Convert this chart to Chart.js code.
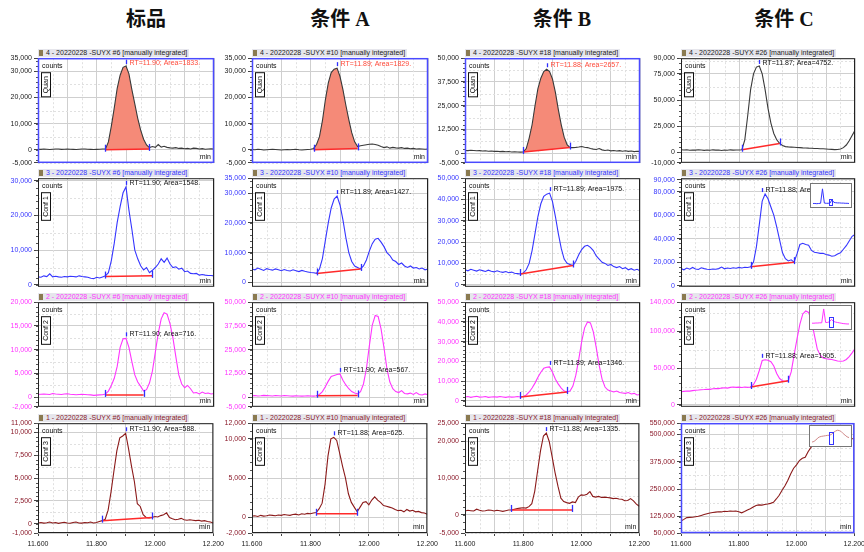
<!DOCTYPE html>
<html><head><meta charset="utf-8">
<script src="https://cdn.jsdelivr.net/npm/chart.js@4.4.1/dist/chart.umd.min.js"></script>
<style>
html,body{margin:0;padding:0;background:#fff}
body{width:864px;height:552px;position:relative;overflow:hidden;font-family:"Liberation Sans",Arial,sans-serif}
.title{position:absolute;top:3px;font-weight:bold;font-size:20px;font-family:"Liberation Serif","Noto Sans CJK SC",serif;transform:translateX(-50%);white-space:nowrap;color:#111}
.hdr{position:absolute;height:8px;line-height:8px;font-size:7px;background:#e6e6ec;white-space:nowrap;padding:0 2px 0 1px}
.hdr .ico{display:inline-block;width:4px;height:6px;background:#8a7a50;margin-right:3px;vertical-align:-1px}
.panel{position:absolute}
.panel canvas{display:block}
</style></head><body>
<script>
// ---- sampling instants (min) ----
const TIMES = [11.60,11.61,11.62,11.63,11.64,11.65,11.66,11.67,11.68,11.69,11.70,11.71,11.72,11.73,11.74,11.75,11.76,11.77,11.78,11.79,
11.80,11.81,11.82,11.83,11.84,11.85,11.86,11.87,11.88,11.89,11.90,11.91,11.92,11.93,11.94,11.95,11.96,11.97,11.98,11.99,
12.00,12.01,12.02,12.03,12.04,12.05,12.06,12.07,12.08,12.09,12.10,12.11,12.12,12.13,12.14,12.15,12.16,12.17,12.18,12.19,12.20];

// ---- Quan transition (row 1) ----
const quan_std = [200,150,250,200,100,200,300,250,150,200,250,200,150,100,200,250,300,200,150,100,150,200,250,
300,3000,9000,16000,23500,28500,31500,32000,29000,23000,17500,12000,7500,4000,1800,800,
1200,900,2000,1000,1300,900,700,600,800,500,600,400,500,300,600,500,300,400,200,300,400,250];
const quan_a = [100,0,200,100,-100,0,100,200,100,0,-100,0,100,0,100,200,0,-100,0,100,
200,500,2000,5000,11000,19000,25500,29500,30800,31200,28000,23000,17000,11500,6500,3000,1200,
1500,1700,1900,2100,2200,2000,1700,1200,800,1100,600,900,700,600,800,500,600,400,500,300,400,300,200,300];
const quan_b = [1500,1400,1600,1500,1300,1400,1200,1300,1100,1200,1000,1100,900,1000,800,900,700,800,700,600,
700,2500,8000,15000,25000,34000,39500,43000,44200,43000,39000,32000,23000,15000,8500,4500,3000,
3000,3100,3300,3600,3200,3000,2500,2200,2000,2500,1800,1500,1700,1300,1500,1200,1400,1100,1300,1000,1200,900,1100,1000];
const quan_c = [2500,2200,2400,2000,2300,2100,2500,2200,1900,2300,2000,2400,2100,2200,1800,2300,2000,2400,2100,2300,2200,
2500,12000,35000,60000,75000,81500,82600,75000,60000,42000,28000,18000,12000,8500,
6500,5500,5200,5000,4800,4600,4500,4300,4200,4000,3900,3700,3600,3500,3400,3200,3000,2800,2600,2700,3200,4500,7000,11000,16000,21000];

// ---- Conf 1 (row 2) ----
const conf1_std = [2300,2200,2600,2400,3200,2300,2500,2300,2200,2400,2300,2500,2400,2300,2600,2400,2300,2200,1900,1800,2200,2000,2300,
2600,3500,7000,12000,18000,22500,26500,28200,21500,16000,10000,7500,5500,4300,5000,3500,4200,
5000,6000,7500,6500,7700,6000,5000,5200,4500,4800,3800,4000,3300,3200,3300,2800,3000,2800,2700,2700,2600];
const conf1_a = [4500,4200,4800,4400,4000,4600,4300,4100,4500,4200,3900,4300,4000,3800,4200,3900,3600,4000,3700,3500,3300,3200,
3000,4500,8000,14000,20000,25000,28000,29000,26000,21000,15000,10000,7000,5500,5000,4500,
5500,7500,10500,13000,14500,14800,13500,12000,10000,9000,7500,7000,6000,6500,5500,5000,5500,4800,5000,4500,4800,4200,4500];
const conf1_b = [7000,6500,7200,6800,6400,7000,6600,6200,6800,6300,6000,6500,6100,5800,6200,5600,5900,5400,5200,
5000,5500,7000,10000,16000,24000,32000,38000,41500,42500,43000,39000,32000,24000,17000,12000,10000,9500,9000,
11000,14000,16500,18000,18500,17500,16000,13500,12000,10500,10000,9000,9500,8500,8000,8500,7500,8000,7000,7500,6800,7200,6500];
const conf1_c = [14500,13500,15000,14000,15500,14200,13800,15200,14500,14000,13800,14200,14000,14500,15800,14300,15000,14600,15200,14800,15500,15000,15600,15400,
16000,20000,33000,52000,72000,78000,74000,67000,60000,50000,39000,28000,23000,21000,22000,20000,
27000,35000,36000,35000,34500,30000,28500,28000,27500,27500,26500,26000,25000,25500,27000,28000,31000,34000,38000,42000,43500];

// ---- Conf 2 (row 3) ----
const conf2_std = [600,650,700,650,600,800,700,650,600,700,750,650,600,550,600,650,600,550,500,400,450,500,550,
700,1300,2500,4000,6500,10500,12300,12400,10500,7500,4700,3200,2300,1300,
1600,3000,5500,9500,13500,16500,17800,17500,15500,12500,8500,4700,2800,2000,2500,1800,900,1000,700,1100,800,900,700,800];
const conf2_a = [800,900,700,800,1000,900,800,700,900,800,700,900,800,700,600,800,700,600,700,800,700,600,
800,1500,3000,5500,8500,11000,11500,12000,12300,9000,6500,4500,3000,2200,1800,
3000,7000,15000,27000,38000,43000,42500,36000,26000,15000,8000,4500,3000,2500,3500,2000,1800,2200,1500,2500,1500,1200,1800,1300];
const conf2_b = [2000,2200,1800,2100,2300,1900,2000,2200,1800,2000,2100,1900,2200,2000,1800,2100,1900,2000,2200,2000,
2200,3000,4500,6500,9000,12000,14500,16500,17000,17200,14500,11000,8500,6500,5000,4500,
5000,7500,13000,21000,30000,37000,40000,39500,35000,27000,18000,11000,7000,5500,5000,4500,5000,4200,4000,3800,4200,3500,3800,3000,3200];
const conf2_c = [18000,18500,19000,18800,19500,20000,20300,20800,21000,21500,21200,22000,22500,22300,23000,23500,23000,24000,24500,24000,24300,23800,24500,24000,24500,
28000,35000,47000,60500,61500,61000,59000,53000,43000,36000,33000,32000,33000,
45000,68000,90000,110000,124000,128000,126000,115000,95000,76000,68000,64000,63000,62500,62000,61000,60000,59500,60000,62000,66000,71000,77000];

// ---- Conf 3 (row 4) ----
const conf3_std = [100,150,80,120,200,100,150,50,120,180,100,60,150,200,100,80,150,120,200,100,150,250,350,
500,1500,3500,5800,8000,9400,9600,9900,8200,6300,4600,2200,1900,1000,700,650,700,
800,750,900,1000,1200,700,550,450,500,600,450,400,450,400,350,400,300,350,250,200,100];
const conf3_a = [150,200,100,250,150,200,300,250,200,300,250,350,300,250,350,400,300,450,400,500,450,550,600,
1100,1800,4200,7800,10000,10200,9800,8200,6500,5000,3000,1900,1300,700,
1300,1900,2000,1600,2200,2600,2200,1900,1500,1400,1300,1200,1000,850,900,700,1000,800,900,700,750,600,550,400];
const conf3_b = [1000,1200,1100,1000,1500,1200,1000,1100,1300,1200,1000,1200,1100,900,1100,1300,1300,1500,1700,1800,1900,1800,2200,
3000,6400,12000,17500,21500,22300,20000,15800,11500,7800,4500,3600,3300,3100,
3500,3300,4800,5400,5300,5600,6300,5000,4800,5000,4700,4800,4700,4600,4400,4500,4300,4200,3800,3900,4400,3800,2900,2300];
const conf3_c = [105000,112000,120000,121000,122000,124000,126000,130000,134000,138000,141000,143000,145000,147000,146000,149000,148000,150000,149000,150000,
147000,142000,148000,155000,160000,168000,175000,178000,177000,180000,
182000,185000,190000,205000,222000,245000,265000,290000,320000,345000,360000,380000,390000,395000,420000,440000,
455000,465000,470000,475000,480000,478000,485000,490000,488000,492000,495000,490000,485000,480000,478000];

const SERIES = [
  [quan_std, quan_a, quan_b, quan_c],
  [conf1_std, conf1_a, conf1_b, conf1_c],
  [conf2_std, conf2_a, conf2_b, conf2_c],
  [conf3_std, conf3_a, conf3_b, conf3_c]
];

// ---- labels ----
const COLUMN_TITLES = ['标品', '条件 A', '条件 B', '条件 C'];
const SAMPLE_NO = ['#6', '#10', '#18', '#26'];
const TRACE_NO = ['4', '3', '2', '1'];
const ION_NAMES = ['Quan', 'Conf 1', 'Conf 2', 'Conf 3'];
const X_TICKS = [11.6, 11.7, 11.8, 11.9, 12.0, 12.1, 12.2];
const X_LABELS = [11.6, 11.8, 12.0, 12.2];

// ---- y-axis tick labels and ranges ----
const Y_TICKS = [
  [[35000,30000,20000,10000,0,-5000],[35000,30000,20000,10000,0,-5000],[50000,37500,25000,12500,0,-5000],[90000,75000,50000,25000,0,-10000]],
  [[30000,20000,10000,0],[35000,30000,20000,10000,0],[50000,40000,30000,20000,10000,0],[90000,80000,60000,40000,20000,0]],
  [[20000,15000,10000,5000,0,-2000],[50000,37500,25000,12500,0,-5000],[50000,40000,30000,20000,10000,0],[140000,100000,50000,0]],
  [[11000,10000,7500,5000,2500,0,-1000],[12000,10000,5000,0,-2000],[25000,20000,10000,0,-5000],[550000,500000,375000,250000,125000,50000]]
];
const Y_RANGE = [
  [[-5000,35000],[-5000,35000],[-5000,50000],[-10000,90000]],
  [[-550,30700],[-1500,35000],[-1000,50000],[-1000,91500]],
  [[-2000,20000],[-5000,50000],[-3000,50000],[-2500,140000]],
  [[-1000,11000],[-2000,12000],[-5000,25000],[50000,550000]]
];
const Y_STEP = [
  [10000,10000,12500,25000],
  [10000,10000,10000,20000],
  [5000,12500,10000,50000],
  [2500,5000,10000,125000]
];

// ---- integration results ----
const RT = [[11.90,11.89,11.88,11.87],[11.90,11.89,11.89,11.88],[11.90,11.90,11.89,11.88],[11.90,11.88,11.88,null]];
const AREA = [[1833,1829,2657,4752],[1548,1427,1975,3741],[716,567,1346,1905],[588,625,1335,null]];
const INT_START = [[11.83,11.81,11.80,11.81],[11.83,11.82,11.79,11.84],[11.83,11.82,11.79,11.84],[11.82,11.82,11.76,null]];
const INT_END = [[11.98,11.96,11.96,11.94],[11.99,11.97,11.97,11.99],[11.96,11.96,11.95,11.97],[11.99,11.96,11.97,null]];
const BASE_START = [[0,0,700,2500],[2400,3000,5000,16000],[500,800,2000,24500],[350,450,1300,null]];
const BASE_END = [[300,500,3000,8500],[2600,4500,9000,20000],[500,1000,4500,33000],[700,450,1300,null]];

// ---- overview thumbnails (column C) ----
const INSET_X = [0,1,2,3,4,5,6,7,8,9,10,11,12,13,14,15,16,17,18,19];
const inset_conf1 = [8,8,7,8,9,85,10,9,9,10,28,14,12,11,11,10,10,9,9,8];
const inset_conf2 = [20,20,21,21,22,22,95,24,24,28,40,30,26,24,22,20,18,17,16,16];
const inset_conf3 = [12,16,25,38,45,48,50,52,54,55,60,72,80,86,84,78,65,55,45,40];
const INSET_WINDOW = [8.6, 10.4];
const INSET_WINDOW_TOP = [32, 53, 78];

// ---- styling ----
const TRACE_COLOR = ['#3a3a3a', '#3535ff', '#ff35ff', '#8b1a1a'];
const LABEL_COLOR = ['#222222', '#3535ff', '#ff35ff', '#8b1a2a'];
const COL_BOX = [[38,214],[252,428],[465,640],[681,855]];
const COL_LEFT = [0,220,436,650];
const ROW_BOX = [[58,168],[178,292],[302,412],[423,533]];
const TITLE_X = [146,340,562,784];
const FONT = '"Liberation Sans", Arial, sans-serif';

const fmtY = v => v.toLocaleString('en-US');

COLUMN_TITLES.forEach((t, c) => {
  const d = document.createElement('div');
  d.className = 'title'; d.textContent = t; d.style.left = TITLE_X[c] + 'px';
  document.body.appendChild(d);
});

function decorPlugin(info) {
  return {
    id: 'decor',
    beforeDatasetsDraw(chart) {
      const { ctx, chartArea: a, scales: { x, y } } = chart;
      ctx.save();
      // minor dashed grid
      ctx.strokeStyle = '#e0e0e0'; ctx.lineWidth = 1; ctx.setLineDash([2, 2]);
      const half = info.step / 2;
      for (let k = Math.ceil(y.min / half); k * half <= y.max; k++) {
        const v = k * half;
        if (k % 2 === 0) continue;
        const Y = Math.round(y.getPixelForValue(v)) + 0.5;
        ctx.beginPath(); ctx.moveTo(a.left, Y); ctx.lineTo(a.right, Y); ctx.stroke();
      }
      for (let i = 0; i < X_TICKS.length - 1; i++) {
        const X = Math.round(x.getPixelForValue((X_TICKS[i] + X_TICKS[i + 1]) / 2)) + 0.5;
        ctx.beginPath(); ctx.moveTo(X, a.top); ctx.lineTo(X, a.bottom); ctx.stroke();
      }
      ctx.setLineDash([]);
      // small ruler marks on the y axis
      ctx.strokeStyle = '#555';
      const fifth = info.step / 5;
      for (let k = Math.ceil(y.min / fifth); k * fifth <= y.max; k++) {
        const Y = Math.round(y.getPixelForValue(k * fifth)) + 0.5;
        ctx.beginPath(); ctx.moveTo(a.left - 2, Y); ctx.lineTo(a.left, Y); ctx.stroke();
      }
      // integrated peak area
      if (info.fill && info.s != null) {
        ctx.beginPath();
        let first = true;
        TIMES.forEach((t, i) => {
          if (t < info.s - 1e-9 || t > info.e + 1e-9) return;
          const X = x.getPixelForValue(t), Y = y.getPixelForValue(info.vals[i]);
          if (first) { ctx.moveTo(X, Y); first = false; } else ctx.lineTo(X, Y);
        });
        ctx.lineTo(x.getPixelForValue(info.e), y.getPixelForValue(info.be));
        ctx.lineTo(x.getPixelForValue(info.s), y.getPixelForValue(info.bs));
        ctx.closePath();
        ctx.fillStyle = '#f58a78'; ctx.fill();
      }
      ctx.restore();
    },
    afterDatasetsDraw(chart) {
      const { ctx, chartArea: a, scales: { x, y } } = chart;
      if (info.s == null) return;
      ctx.save();
      ctx.strokeStyle = '#2f2fff'; ctx.lineWidth = 1.3;
      [[info.s, info.bs], [info.e, info.be]].forEach(([t, v]) => {
        const X = Math.round(x.getPixelForValue(t)) + 0.5, Y = y.getPixelForValue(v);
        ctx.beginPath(); ctx.moveTo(X, Y - 5); ctx.lineTo(X, Y + 2); ctx.stroke();
      });
      // apex
      let top = -Infinity;
      TIMES.forEach((t, i) => { if (t >= info.s - 1e-9 && t <= info.e + 1e-9) top = Math.max(top, info.vals[i]); });
      const AX = Math.round(x.getPixelForValue(info.rt)) + 0.5;
      const AY = Math.max(a.top + 6, y.getPixelForValue(top) - 1);
      ctx.beginPath(); ctx.moveTo(AX, AY - 5); ctx.lineTo(AX, AY - 1); ctx.stroke();
      ctx.font = '7px ' + FONT; ctx.textBaseline = 'middle'; ctx.textAlign = 'left';
      ctx.fillStyle = info.fill ? '#ff4a3a' : '#111';
      ctx.fillText('RT=' + info.rt.toFixed(2) + '; Area=' + info.area + '.', AX + 3, Math.max(a.top + 5, AY - 3));
      ctx.restore();
    },
    afterDraw(chart) {
      const { ctx, chartArea: a } = chart;
      ctx.save();
      ctx.font = '7px ' + FONT; ctx.fillStyle = '#111'; ctx.textBaseline = 'middle';
      ctx.textAlign = 'left'; ctx.fillText('counts', a.left + 4, a.top + 8);
      ctx.textAlign = 'right'; ctx.fillText('min', a.right - 3, a.bottom - 6);
      // ion label box
      const tw = ctx.measureText(info.ion).width;
      const bx = a.left + 3, by = a.top + 14, bw = 9, bh = tw + 7;
      ctx.strokeStyle = '#111'; ctx.lineWidth = 1;
      ctx.strokeRect(bx + 0.5, by + 0.5, bw, bh);
      ctx.translate(bx + bw / 2 + 1, by + bh / 2 + 0.5); ctx.rotate(-Math.PI / 2);
      ctx.textAlign = 'center'; ctx.fillText(info.ion, 0, 0);
      ctx.restore();
      ctx.save();
      if (info.hi) { ctx.strokeStyle = '#4a4aff'; ctx.lineWidth = 1.5; }
      else { ctx.strokeStyle = '#222'; ctx.lineWidth = 1; }
      ctx.strokeRect(a.left + 0.5, a.top + 0.5, a.width - 1, a.height - 1);
      ctx.restore();
    }
  };
}

function makePanel(r, c) {
  const [bl, br] = COL_BOX[c], [bt, bb] = ROW_BOX[r];
  const axisW = bl - COL_LEFT[c];
  const padT = 6, padR = 14;
  const bottom = r === 3;
  const xAxisH = bottom ? 18 : 0, padB = bottom ? 0 : 1;
  const w = axisW + (br - bl) + padR;
  const h = padT + (bb - bt) + xAxisH + padB;

  const hdr = document.createElement('div');
  hdr.className = 'hdr';
  hdr.style.left = bl + 'px'; hdr.style.top = (bt - 9) + 'px'; hdr.style.color = LABEL_COLOR[r];
  hdr.innerHTML = '<span class="ico"></span>' + TRACE_NO[r] + ' - 20220228 -SUYX ' + SAMPLE_NO[c] + ' [manually integrated]';

  const div = document.createElement('div');
  div.className = 'panel';
  div.style.left = COL_LEFT[c] + 'px'; div.style.top = (bt - padT) + 'px';
  const cv = document.createElement('canvas');
  cv.width = w; cv.height = h; cv.style.width = w + 'px'; cv.style.height = h + 'px';
  div.appendChild(cv);
  document.body.appendChild(div);
  document.body.appendChild(hdr);

  const vals = SERIES[r][c];
  const hasInt = INT_START[r][c] != null;
  const info = {
    vals, step: Y_STEP[r][c], ion: ION_NAMES[r],
    s: INT_START[r][c], e: INT_END[r][c], bs: BASE_START[r][c], be: BASE_END[r][c],
    rt: RT[r][c], area: AREA[r][c], fill: r === 0 && c < 3,
    hi: (r === 0 && c < 3) || (r === 3 && c === 3)
  };
  const datasets = [];
  if (hasInt) datasets.push({
    data: [{ x: info.s, y: info.bs }, { x: info.e, y: info.be }],
    borderColor: '#ff2a2a', borderWidth: 1.5, pointRadius: 0
  });
  datasets.push({
    data: TIMES.map((t, i) => ({ x: t, y: vals[i] })),
    borderColor: TRACE_COLOR[r], borderWidth: 1.1, pointRadius: 0, tension: 0
  });

  new Chart(cv, {
    type: 'line',
    data: { datasets },
    options: {
      responsive: false, animation: false, events: [], devicePixelRatio: 1,
      layout: { padding: { top: padT, right: padR, bottom: padB, left: 0 }, autoPadding: false },
      plugins: { legend: { display: false }, tooltip: { enabled: false } },
      scales: {
        x: {
          type: 'linear', min: 11.6, max: 12.2,
          afterBuildTicks: s => { s.ticks = X_TICKS.map(v => ({ value: v })); },
          afterFit: s => { s.height = xAxisH; },
          ticks: {
            display: bottom, autoSkip: false, maxRotation: 0, padding: 4, color: '#222',
            font: { family: FONT, size: 7 },
            callback: v => X_LABELS.some(l => Math.abs(l - v) < 1e-6) ? v.toFixed(3) : ''
          },
          grid: { color: '#cfcfcf', lineWidth: 1, drawTicks: bottom, tickLength: 3, tickColor: '#444' },
          border: { display: false }
        },
        y: {
          type: 'linear', min: Y_RANGE[r][c][0], max: Y_RANGE[r][c][1],
          afterBuildTicks: s => { s.ticks = Y_TICKS[r][c].map(v => ({ value: v })); },
          afterFit: s => { s.width = axisW; },
          ticks: { autoSkip: false, padding: 2, color: LABEL_COLOR[r], font: { family: FONT, size: 7 }, callback: v => fmtY(v) },
          grid: { color: '#cfcfcf', lineWidth: 1, drawTicks: true, tickLength: 4, tickColor: '#444' },
          border: { display: false }
        }
      }
    },
    plugins: [decorPlugin(info)]
  });
}

function makeInset(r, vals, left, top, w, h) {
  const div = document.createElement('div');
  div.className = 'panel';
  div.style.left = left + 'px'; div.style.top = top + 'px';
  const cv = document.createElement('canvas');
  cv.width = w; cv.height = h; cv.style.width = w + 'px'; cv.style.height = h + 'px';
  div.appendChild(cv); document.body.appendChild(div);
  const winTop = INSET_WINDOW_TOP[r - 1];
  new Chart(cv, {
    type: 'line',
    data: { datasets: [{ data: INSET_X.map((x, i) => ({ x, y: vals[i] })), borderColor: r === 3 ? '#d08a8a' : TRACE_COLOR[r], borderWidth: 1, pointRadius: 0 }] },
    options: {
      responsive: false, animation: false, events: [], devicePixelRatio: 1,
      layout: { padding: 3, autoPadding: false },
      plugins: { legend: { display: false }, tooltip: { enabled: false } },
      scales: {
        x: { type: 'linear', min: 0, max: 19, display: false },
        y: { type: 'linear', min: 0, max: 100, display: false }
      }
    },
    plugins: [{
      id: 'insetFrame',
      beforeDraw(chart) {
        const ctx = chart.ctx;
        ctx.save(); ctx.fillStyle = '#fff'; ctx.fillRect(0, 0, chart.width, chart.height);
        ctx.strokeStyle = '#777'; ctx.lineWidth = 1; ctx.strokeRect(0.5, 0.5, chart.width - 1, chart.height - 1);
        ctx.restore();
      },
      afterDatasetsDraw(chart) {
        const { ctx, scales: { x, y } } = chart;
        const x0 = x.getPixelForValue(INSET_WINDOW[0]), x1 = x.getPixelForValue(INSET_WINDOW[1]);
        const y0 = y.getPixelForValue(winTop), y1 = y.getPixelForValue(0);
        ctx.save(); ctx.strokeStyle = '#3535ff'; ctx.lineWidth = 1;
        ctx.strokeRect(Math.round(x0) + 0.5, Math.round(y0) + 0.5, Math.round(x1 - x0), Math.round(y1 - y0));
        ctx.restore();
      }
    }]
  });
}

for (let r = 0; r < 4; r++) for (let c = 0; c < 4; c++) makePanel(r, c);
makeInset(1, inset_conf1, 810, 183, 42, 25);
makeInset(2, inset_conf2, 809, 305, 43, 25);
makeInset(3, inset_conf3, 809, 425, 43, 22);
</script>
</body></html>
